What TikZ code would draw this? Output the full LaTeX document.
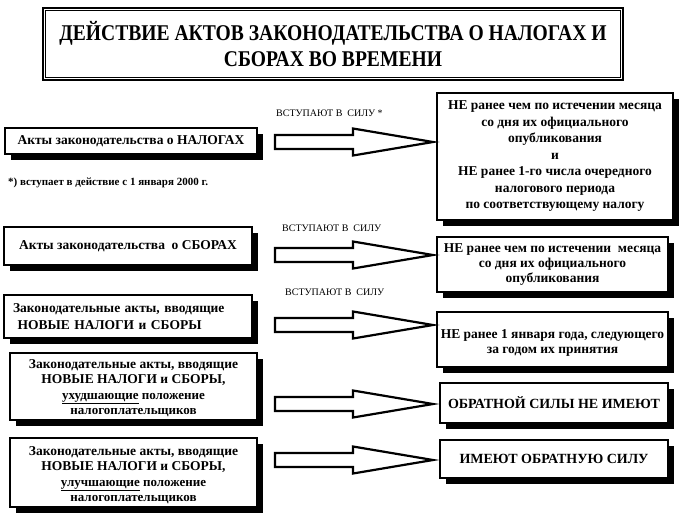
\documentclass[tikz,border=0pt]{standalone}
\usepackage{fontspec}
\setmainfont{Liberation Serif}
\newfontfamily\titlefont[FakeStretch=0.87]{Liberation Serif}
\usetikzlibrary{shadows,calc}
\newcommand\smc[1]{{\fontsize{13}{15.5}\selectfont #1}}
\begin{document}
\begin{tikzpicture}[x=1pt,y=-1pt,
  box/.style={draw, line width=1.4pt, fill=white, inner sep=0pt, align=center,
    font=\bfseries\fontsize{13.5}{16.5}\selectfont,
    drop shadow={shadow xshift=6pt, shadow yshift=-6pt, opacity=1, fill=black}},
  boxtext/.style={inner sep=0pt, align=center, font=\bfseries\fontsize{13.5}{15.5}\selectfont},
  barrow/.style={draw, line width=2.2pt, fill=white, line join=miter},
  lbl/.style={anchor=west, inner sep=0pt, font=\fontsize{10}{11}\selectfont},
  titlebox/.style={draw, line width=2.5pt, fill=white, inner sep=0pt, align=center,
    font=\titlefont\bfseries\fontsize{22.5}{26}\selectfont}
]
\useasboundingbox (0,0) rectangle (680,520);

% title
\node[titlebox, minimum width=580, minimum height=72] (title) at (333,44)
  {ДЕЙСТВИЕ АКТОВ ЗАКОНОДАТЕЛЬСТВА О НАЛОГАХ И\\ СБОРАХ ВО ВРЕМЕНИ};
\draw[line width=0.8pt] ([shift={(4,4)}]title.north west) rectangle ([shift={(-4,-4)}]title.south east);

% left boxes
\node[box, minimum width=252, minimum height=26] (L1) at (131,141)
  {Акты законодательства о НАЛОГАХ};
\node[box, minimum width=248, minimum height=38] (L2) at (128,246)
  {Акты законодательства\ \ о СБОРАХ};
\node[box, minimum width=248, minimum height=43, text width=230, align=left, inner xsep=9pt] (L3) at (128,316.5)
  {Законодательные акты, вводящие\\ \ НОВЫЕ НАЛОГИ и СБОРЫ};
\node[box, minimum width=247, minimum height=67] (L4) at (133.5,386.5) {};
\node[boxtext] (L4t) at ([yshift=-1.5pt]L4.center)
  {Законодательные акты, вводящие\\ НОВЫЕ НАЛОГИ и СБОРЫ,\\
   \smc{\underline{ухудшающие} положение}\\ \smc{налогоплательщиков}};
\node[box, minimum width=247, minimum height=69] (L5) at (133.5,472.5) {};
\node[boxtext] (L5t) at ([yshift=-2.5pt]L5.center)
  {Законодательные акты, вводящие\\ НОВЫЕ НАЛОГИ и СБОРЫ,\\
   \smc{\underline{улучшающие} положение}\\ \smc{налогоплательщиков}};

% right boxes
\node[box, minimum width=236, minimum height=127] (R1) at (555,156.5)
  {НЕ ранее чем по истечении месяца\\ со дня их официального\\ опубликования\\ и\\
   НЕ ранее 1-го числа очередного\\ налогового периода\\ по соответствующему налогу};
\node[box, minimum width=231, minimum height=55, font=\bfseries\fontsize{13.5}{15}\selectfont] (R2) at (552.5,264.5)
  {НЕ ранее чем по истечении\ \ месяца\\ со дня их официального\\ опубликования};
\node[box, minimum width=231, minimum height=55] (R3) at (552.5,339.5) {};
\node[boxtext, font=\bfseries\fontsize{13.5}{15}\selectfont] (R3t) at ([yshift=-3pt]R3.center)
  {НЕ ранее 1 января года, следующего\\ за годом их принятия};
\node[box, minimum width=228, minimum height=40, font=\bfseries\fontsize{14}{16}\selectfont] (R4) at (554,403)
  {ОБРАТНОЙ СИЛЫ НЕ ИМЕЮТ};
\node[box, minimum width=228, minimum height=38, font=\bfseries\fontsize{14}{16}\selectfont] (R5) at (554,459)
  {ИМЕЮТ ОБРАТНУЮ СИЛУ};

% labels
\node[lbl] (v1) at (276,113) {ВСТУПАЮТ В\ \ СИЛУ *};
\node[lbl] (v2) at (282,228) {ВСТУПАЮТ В\ \ СИЛУ};
\node[lbl] (v3) at (285,292) {ВСТУПАЮТ В\ \ СИЛУ};
\node[anchor=west, inner sep=0pt, font=\bfseries\fontsize{11}{12}\selectfont] (fn) at (8,183)
  {*) вступает в действие с 1 января 2000 г.};

% block arrows
\newcommand\blockarr[1]{%
  \draw[barrow] ($(#1)+(-79,-7)$) -- ($(#1)+(-1,-7)$) -- ($(#1)+(-1,-13.5)$)
    -- ($(#1)+(79,0)$) -- ($(#1)+(-1,13.5)$) -- ($(#1)+(-1,7)$) -- ($(#1)+(-79,7)$) -- cycle;}
\coordinate (a1) at (354,142);
\coordinate (a2) at (354,255);
\coordinate (a3) at (354,325);
\coordinate (a4) at (354,404);
\coordinate (a5) at (354,460);
\blockarr{a1}
\blockarr{a2}
\blockarr{a3}
\blockarr{a4}
\blockarr{a5}
\end{tikzpicture}
\end{document}
